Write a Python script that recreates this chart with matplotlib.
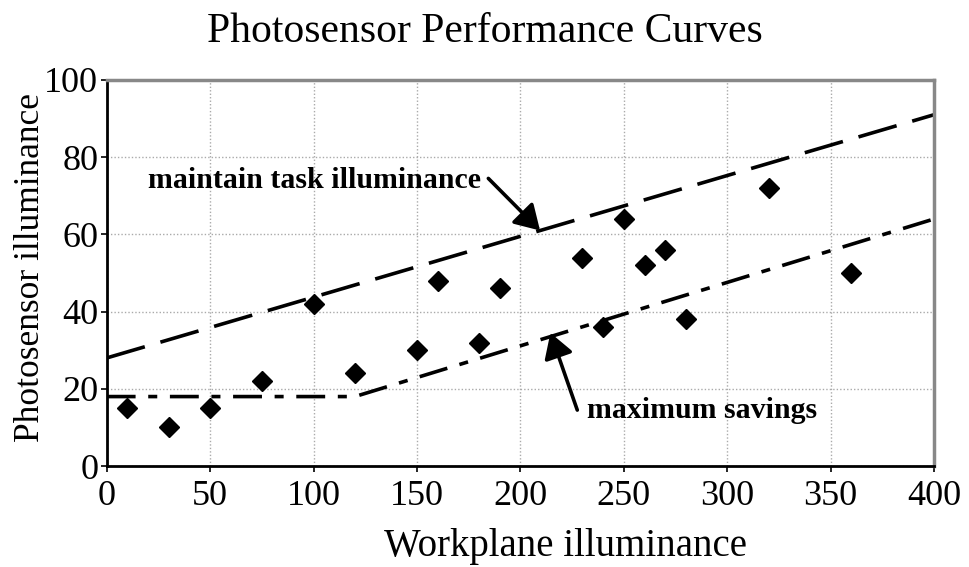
import matplotlib.pyplot as plt
import numpy as np

plt.rcParams["font.family"] = ["Liberation Serif", "DejaVu Serif"]

# measured points (workplane vs photosensor illuminance)
workplane = [10, 30, 50, 75, 100, 120, 150, 160, 180, 190, 230, 240, 250, 260, 270, 280, 320, 360]
photosensor = [15, 10, 15, 22, 42, 24, 30, 48, 32, 46, 54, 36, 64, 52, 56, 38, 72, 50]

# performance curves
maintain_x = [0, 400]
maintain_y = [28, 91]
savings_x = [0, 120, 400]
savings_y = [18, 18, 64]

fig = plt.figure(figsize=(9.7, 5.67), dpi=100)
ax = fig.add_axes([0.110, 0.178, 0.853, 0.681])

ax.plot(maintain_x, maintain_y, color="black", lw=2.6, dashes=(11, 4.5))
ax.plot(savings_x, savings_y, color="black", lw=2.6, dashes=(8, 3.5, 2.5, 3.5))
ax.plot(workplane, photosensor, "D", color="black", markersize=10.5, ls="none")

ax.set_xlim(0, 400)
ax.set_ylim(0, 100)
ax.set_xticks(np.arange(0, 401, 50))
ax.set_yticks(np.arange(0, 101, 20))
ax.grid(True, color="#aaaaaa", ls=(0, (1, 1.5)), lw=1)
ax.set_axisbelow(True)

for s in ["top", "right"]:
    ax.spines[s].set_color("#888888")
    ax.spines[s].set_linewidth(2.5)
for s in ["left", "bottom"]:
    ax.spines[s].set_color("black")
    ax.spines[s].set_linewidth(2)
ax.tick_params(direction="out", length=4, width=1.2, labelsize=26, pad=2)
ax.tick_params(axis="x", pad=6)

ax.set_xlabel("Workplane illuminance", fontsize=28)
ax.xaxis.set_label_coords(0.554, -0.16)
ax.set_ylabel("Photosensor illuminance", fontsize=25.5)
ax.yaxis.set_label_coords(-0.072, 0.513)
fig.suptitle("Photosensor Performance Curves", fontsize=30, y=0.978)

ax.text(181, 74, "maintain task illuminance", fontsize=21.5, fontweight="bold",
        ha="right", va="center")
ax.text(232, 14.5, "maximum savings", fontsize=21.5, fontweight="bold",
        ha="left", va="center")

arrow = dict(arrowstyle="-|>,head_length=1.5,head_width=0.9",
             color="black", lw=2.6, shrinkA=0, shrinkB=0)
ax.annotate("", xy=(209.5, 61), xytext=(184.5, 74.5), arrowprops=arrow)
ax.annotate("", xy=(214.5, 34.5), xytext=(227.5, 14.5), arrowprops=arrow)

fig.savefig("out.png", dpi=100)
